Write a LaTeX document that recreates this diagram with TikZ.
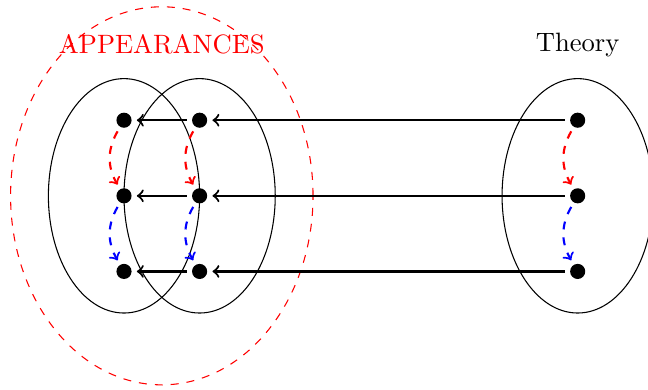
\documentclass[tikz,border=0pt]{standalone}
\usepackage{amsmath,amssymb}
\usepackage{tikz}

\begin{document}
\begin{tikzpicture}[dot/.style={circle,fill=black,inner sep=0pt,minimum size=0.2cm,outer sep=0.07cm}]
\useasboundingbox (-1.64,1.59) rectangle (6.93,-3.56);
\draw [red,dashed] (0.5,-1) ellipse [x radius=2cm, y radius=2.5cm];
\draw (0,-1) ellipse [x radius=1cm, y radius=1.55cm];
\draw (1,-1) ellipse [x radius=1cm, y radius=1.55cm];
\draw (6,-1) ellipse [x radius=1cm, y radius=1.55cm];

\node [dot] (a1) at (0,0) {};
\node [dot] (a2) at (0,-1) {};
\node [dot] (a3) at (0,-2) {};
\node [dot] (b1) at (1,0) {};
\node [dot] (b2) at (1,-1) {};
\node [dot] (b3) at (1,-2) {};
\node [dot] (t1) at (6,0) {};
\node [dot] (t2) at (6,-1) {};
\node [dot] (t3) at (6,-2) {};

\draw [thick,->] (t1) -- (b1);
\draw [thick,->] (t2) -- (b2);
\draw [thick,->] (t3) -- (b3);
\draw [thick,->] (b1) -- (a1);
\draw [thick,->] (b2) -- (a2);
\draw [thick,->] (b3) -- (a3);

\draw [red,thick,dashed,->] (a1) to [bend right] (a2);
\draw [blue,thick,dashed,->] (a2) to [bend right] (a3);
\draw [red,thick,dashed,->] (b1) to [bend right] (b2);
\draw [blue,thick,dashed,->] (b2) to [bend right] (b3);
\draw [red,thick,dashed,->] (t1) to [bend right] (t2);
\draw [blue,thick,dashed,->] (t2) to [bend right] (t3);

\node [red] (app) at (0.5,1) {APPEARANCES};
\node (thy) at (6,1) {Theory};
\end{tikzpicture}
\end{document}
